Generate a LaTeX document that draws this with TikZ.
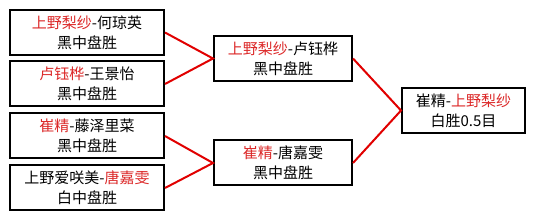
\documentclass[tikz,border=0pt]{standalone}
\usepackage{fontspec}
\newfontfamily\cjk{Noto Sans CJK SC}
\definecolor{rtext}{RGB}{220,40,40}
\definecolor{rline}{RGB}{225,0,0}
\begin{document}
\begin{tikzpicture}[x=1pt,y=-1pt,
  pbox/.style={draw=black,line width=2pt,fill=white,minimum width=#1,minimum height=45pt,
    inner sep=0pt,align=center,font=\cjk\fontsize{15}{20}\selectfont},
  pbox/.default=154pt,
  link/.style={draw=rline,line width=2pt}]
\useasboundingbox (0,0) rectangle (535,221);
\fill[white] (0,0) rectangle (535,221);
\node[pbox] (a) at (87,32.5) {\textcolor{rtext}{上野梨纱}-何琼英\\黑中盘胜};
\node[pbox] (b) at (87,84) {\textcolor{rtext}{卢钰桦}-王景怡\\黑中盘胜};
\node[pbox] (c) at (87,136) {\textcolor{rtext}{崔精}-藤泽里菜\\黑中盘胜};
\node[pbox] (d) at (87,188) {上野爱咲美-\textcolor{rtext}{唐嘉雯}\\白中盘胜};
\node[pbox=138pt] (e) at (283,58.5) {\textcolor{rtext}{上野梨纱}-卢钰桦\\黑中盘胜};
\node[pbox=138pt] (f) at (283,163) {\textcolor{rtext}{崔精}-唐嘉雯\\黑中盘胜};
\node[pbox=123pt] (g) at (463.5,110.5) {崔精-\textcolor{rtext}{上野梨纱}\\白胜0.5目};
\draw[link] (a.east) -- (e.west) -- (b.east);
\draw[link] (c.east) -- (f.west) -- (d.east);
\draw[link] (e.east) -- (g.west) -- (f.east);
\end{tikzpicture}
\end{document}
